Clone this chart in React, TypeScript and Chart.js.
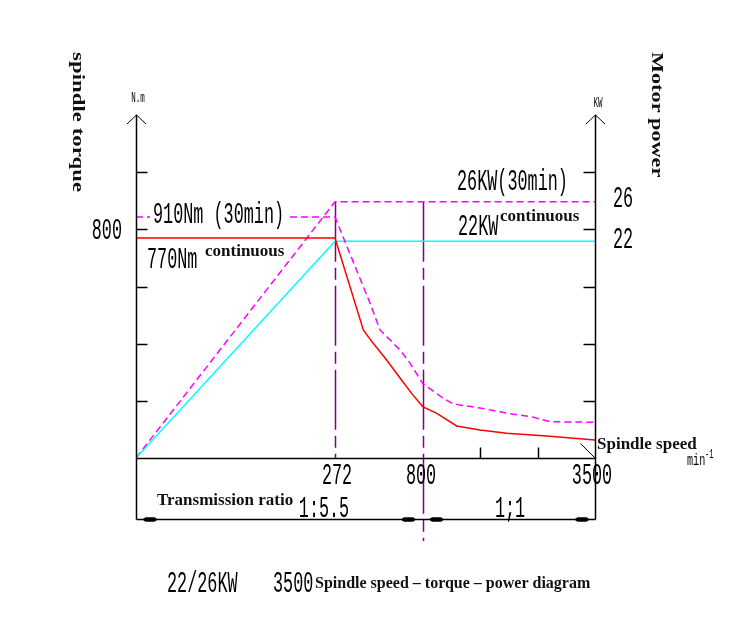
import React, { useEffect, useRef } from 'react';
import { Chart, registerables, LinearScale } from 'chart.js';

// ---------------- data ----------------
// Spindle speed breakpoints (min^-1) that the schematic axis is drawn through
const speedMarks = [0, 272, 800, 3500];
const speedTickLabels = ['272', '800', '3500'];
const speedMinorTicks = [1700, 2600];

// Torque axis (N.m)
const torqueTicks = [200, 400, 600, 800, 1000];
const torqueTickLabels = ['', '', '', '800', ''];

// Continuous torque curve (red)
const contTorqueSpeed = [0, 272, 442, 500, 582, 662, 740, 800, 1010, 1329, 1695, 2114, 2742, 3500];
const contTorque = [770, 770, 448, 402, 343, 280, 220, 179, 157, 112, 98, 87, 77, 63];

// 30‑min torque curve (magenta dashed)
const s30TorqueSpeed = [0, 272, 482, 542, 662, 722, 800, 1114, 1276, 1695, 2114, 2527, 2794, 3500];
const s30Torque = [843, 843, 542, 448, 378, 332, 259, 210, 189, 175, 157, 143, 127, 125];

// Power curves (KW)
const powerSpeed = [0, 272, 3500];
const contPower = [0, 22, 22];
const s30Power = [0, 26, 26];

// ---------------- piecewise (schematic) speed scale ----------------
const X_FRACS = [0, 199 / 459, 287 / 459, 1];

class PiecewiseScale extends LinearScale {
  static id = 'piecewise';
  static defaults = {};
  getPixelForValue(value: number) {
    let f = 0;
    if (value <= speedMarks[0]) f = 0;
    else if (value >= speedMarks[speedMarks.length - 1]) f = 1;
    else {
      for (let i = 0; i < speedMarks.length - 1; i++) {
        const a = speedMarks[i], b = speedMarks[i + 1];
        if (value >= a && value <= b) {
          f = X_FRACS[i] + ((value - a) / (b - a)) * (X_FRACS[i + 1] - X_FRACS[i]);
          break;
        }
      }
    }
    return this.left + f * this.width;
  }
  getValueForPixel(pixel: number) {
    const f = (pixel - this.left) / this.width;
    for (let i = 0; i < X_FRACS.length - 1; i++) {
      if (f >= X_FRACS[i] && f <= X_FRACS[i + 1]) {
        const t = (f - X_FRACS[i]) / (X_FRACS[i + 1] - X_FRACS[i]);
        return speedMarks[i] + t * (speedMarks[i + 1] - speedMarks[i]);
      }
    }
    return f < 0 ? speedMarks[0] : speedMarks[speedMarks.length - 1];
  }
}

Chart.register(...registerables, PiecewiseScale);

const COND = '"Liberation Mono"';
const SERIF = '"Liberation Serif", "Times New Roman", serif';

function condText(ctx: CanvasRenderingContext2D, text: string, x: number, y: number, size: number, align: CanvasTextAlign = 'left', sx = 0.56) {
  ctx.save();
  ctx.font = `${size}px ${COND}`;
  ctx.textBaseline = 'alphabetic';
  ctx.textAlign = align;
  ctx.fillStyle = '#000';
  ctx.translate(x, y);
  ctx.scale(sx, 1);
  ctx.fillText(text, 0, 0);
  ctx.restore();
}

function boldText(ctx: CanvasRenderingContext2D, text: string, x: number, y: number, size: number, align: CanvasTextAlign = 'left') {
  ctx.save();
  ctx.font = `bold ${size}px ${SERIF}`;
  ctx.textBaseline = 'alphabetic';
  ctx.textAlign = align;
  ctx.fillStyle = '#111';
  ctx.fillText(text, x, y);
  ctx.restore();
}

function verticalTitle(ctx: CanvasRenderingContext2D, text: string, x: number, y: number, size: number, stretch: number) {
  ctx.save();
  ctx.font = `bold ${size}px ${SERIF}`;
  ctx.textBaseline = 'alphabetic';
  ctx.textAlign = 'left';
  ctx.fillStyle = '#111';
  ctx.translate(x, y);
  ctx.rotate(Math.PI / 2);
  ctx.scale(stretch, 1);
  ctx.fillText(text, 0, 0);
  ctx.restore();
}

function seg(ctx: CanvasRenderingContext2D, x1: number, y1: number, x2: number, y2: number) {
  ctx.beginPath();
  ctx.moveTo(x1, y1);
  ctx.lineTo(x2, y2);
  ctx.stroke();
}

const diagramPlugin = {
  id: 'diagram',
  beforeDatasetsDraw(chart: any) {
    const { ctx, chartArea: a } = chart;
    const { x, y2 } = chart.scales;
    const top = y2.getPixelForValue(s30Power[1]);
    ctx.save();
    ctx.strokeStyle = '#800080';
    ctx.lineWidth = 1.5;
    ctx.setLineDash([60, 6, 12, 6]);
    const xa = Math.round(x.getPixelForValue(speedMarks[1])) + 0.5;
    seg(ctx, xa, top, xa, a.bottom);
    const xb = Math.round(x.getPixelForValue(speedMarks[2])) + 0.5;
    seg(ctx, xb, top, xb, a.bottom + 83);
    ctx.restore();
  },
  afterDatasetsDraw(chart: any) {
    const { ctx, chartArea: a } = chart;
    const { x, y } = chart.scales;
    const L = a.left + 0.5, R = a.right + 0.5, T = a.top, B = a.bottom + 0.5;
    const dimY = a.bottom + 61.5;

    ctx.save();
    ctx.strokeStyle = '#000';
    ctx.lineWidth = 1.5;
    ctx.setLineDash([]);
    // axes
    seg(ctx, L, T, L, dimY);
    seg(ctx, R, T, R, dimY);
    seg(ctx, L, B, R, B);
    seg(ctx, L, dimY, R, dimY);
    // arrow heads
    ctx.lineWidth = 1;
    for (const ax of [L, R]) {
      ctx.beginPath();
      ctx.moveTo(ax - 9.5, T + 9);
      ctx.lineTo(ax, T);
      ctx.lineTo(ax + 9.5, T + 9);
      ctx.stroke();
    }
    ctx.lineWidth = 1.5;
    // torque ticks on both side axes
    torqueTicks.forEach((v) => {
      const py = Math.round(y.getPixelForValue(v)) + 0.5;
      seg(ctx, L, py, L + 11, py);
      seg(ctx, R - 12, py, R, py);
    });
    // minor speed ticks
    speedMinorTicks.forEach((v) => {
      const px = Math.round(x.getPixelForValue(v)) + 0.5;
      seg(ctx, px, B - 11, px, B);
    });
    // leader line to "Spindle speed"
    ctx.lineWidth = 1;
    seg(ctx, R - 15, B - 15, R, B);

    // dimension arrow marks (thick short bars)
    const xm = x.getPixelForValue(speedMarks[2]);
    const marks: number[] = [L + 7, xm - 21, xm + 7, R - 20];
    ctx.fillStyle = '#000';
    marks.forEach((px) => {
      ctx.beginPath();
      ctx.moveTo(px, dimY - 1);
      ctx.lineTo(px + 2, dimY - 2.2);
      ctx.lineTo(px + 11, dimY - 2.2);
      ctx.lineTo(px + 13, dimY - 1);
      ctx.lineTo(px + 13, dimY + 1);
      ctx.lineTo(px + 11, dimY + 2.2);
      ctx.lineTo(px + 2, dimY + 2.2);
      ctx.lineTo(px, dimY + 1);
      ctx.closePath();
      ctx.fill();
    });
    ctx.restore();

    // ---- tick labels ----
    torqueTicks.forEach((v, i) => {
      if (torqueTickLabels[i]) condText(ctx, torqueTickLabels[i], a.left - 14, y.getPixelForValue(v) + 10, 30, 'right');
    });
    speedTickLabels.forEach((lab, i) => {
      const px = x.getPixelForValue(speedMarks[i + 1]);
      condText(ctx, lab, px + (i === 0 ? 2 : i === 1 ? -2 : -3), B + 25, 30, 'center');
    });

    // units
    condText(ctx, 'N.m', a.left + 2, a.top - 13, 15, 'center', 0.5);
    condText(ctx, 'KW', a.right + 3, a.top - 8, 15, 'center', 0.5);

    // axis titles
    verticalTitle(ctx, 'spindle torque', 73, 52, 16, 1.43);
    verticalTitle(ctx, 'Motor power', 652, 52, 16, 1.39);

    // curve annotations
    const y30 = y.getPixelForValue(s30Torque[0]);
    ctx.save();
    ctx.fillStyle = '#fff';
    ctx.fillRect(a.left + 14, y30 - 14, 139, 22);
    ctx.restore();
    condText(ctx, '910Nm (30min)', a.left + 17, y30 + 6, 30);
    condText(ctx, '770Nm', a.left + 11, 268, 30);
    boldText(ctx, 'continuous', a.left + 69, 256, 17);

    condText(ctx, '26KW(30min)', 457, 190, 30);
    condText(ctx, '22KW', 458, 235, 30);
    boldText(ctx, 'continuous', 500, 221, 17);

    condText(ctx, '26', a.right + 18, 207, 30);
    condText(ctx, '22', a.right + 18, 248, 30);

    boldText(ctx, 'Spindle speed', a.right + 2, 449, 17);
    condText(ctx, 'min', 687, 465, 17, 'left', 0.6);
    condText(ctx, '-1', 705, 458, 12, 'left', 0.6);

    boldText(ctx, 'Transmission ratio', 157, 505, 17);
    condText(ctx, '1:5.5', 324, 517, 30, 'center');
    condText(ctx, '1;1', 510, 517, 30, 'center');

    condText(ctx, '22/26KW', 167, 592, 30);
    condText(ctx, '3500', 273, 592, 30);
    boldText(ctx, 'Spindle speed – torque – power diagram', 315, 588, 16);
  },
};

export default function App() {
  const ref = useRef<HTMLCanvasElement | null>(null);

  useEffect(() => {
    if (!ref.current) return;
    const toPts = (xs: number[], ys: number[]) => xs.map((v, i) => ({ x: v, y: ys[i] }));
    const chart = new Chart(ref.current, {
      type: 'line',
      data: {
        datasets: [
          {
            label: 'Continuous torque',
            data: toPts(contTorqueSpeed, contTorque),
            yAxisID: 'y',
            borderColor: '#ff0000',
            borderWidth: 1.5,
            pointRadius: 0,
            tension: 0,
          },
          {
            label: '30min torque',
            data: toPts(s30TorqueSpeed, s30Torque),
            yAxisID: 'y',
            borderColor: '#ff00ff',
            borderWidth: 1.5,
            borderDash: [7, 4],
            pointRadius: 0,
            tension: 0,
          },
          {
            label: 'Continuous power',
            data: toPts(powerSpeed, contPower),
            yAxisID: 'y2',
            borderColor: '#00ffff',
            borderWidth: 1.5,
            pointRadius: 0,
            tension: 0,
          },
          {
            label: '30min power',
            data: toPts(powerSpeed, s30Power),
            yAxisID: 'y2',
            borderColor: '#ff00ff',
            borderWidth: 1.5,
            borderDash: [7, 4],
            pointRadius: 0,
            tension: 0,
          },
        ],
      },
      options: {
        animation: false,
        responsive: false,
        devicePixelRatio: 1,
        layout: { padding: { left: 136, right: 143, top: 115, bottom: 165 } },
        plugins: { legend: { display: false }, tooltip: { enabled: false } },
        scales: {
          x: { type: 'piecewise' as any, min: 0, max: 3500, display: false },
          y: { type: 'linear', min: 0, max: 1200, display: false },
          y2: { type: 'linear', min: 0, max: 34.8, display: false, position: 'right' },
        },
      },
      plugins: [diagramPlugin],
    });
    return () => chart.destroy();
  }, []);

  return (
    <div style={{ position: 'fixed', left: 0, top: 0, width: 738, height: 623, background: '#fff' }}>
      <canvas ref={ref} width={738} height={623} style={{ display: 'block' }} />
    </div>
  );
}
